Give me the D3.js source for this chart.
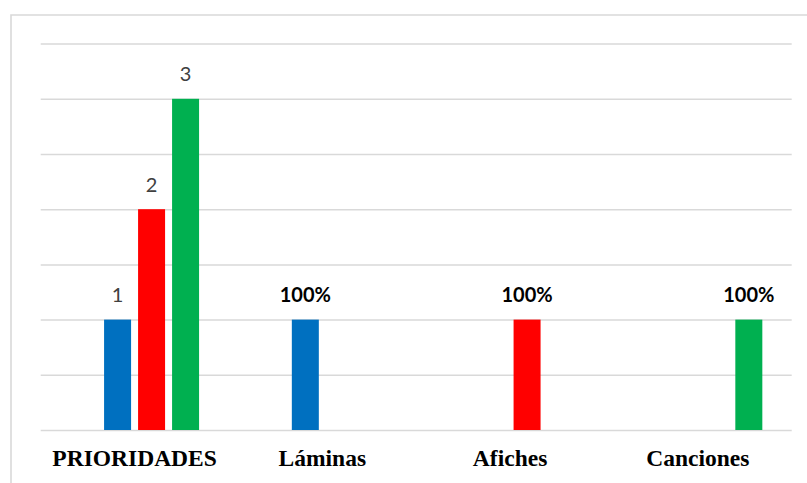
<!DOCTYPE html>
<html>
<head>
<meta charset="utf-8">
<script src="https://cdn.jsdelivr.net/npm/d3@7"></script>
<style>
  html, body { margin: 0; padding: 0; background: #fff; }
  svg { display: block; }
</style>
</head>
<body>
<svg id="chart" width="807" height="483"></svg>
<script>
// ---- data ----
const categories = ["PRIORIDADES", "Láminas", "Afiches", "Canciones"];
const seriesNames = ["vacía", "1", "2", "3"];
const seriesColors = ["#ffffff", "#0070c0", "#ff0000", "#00b050"];
// values per series, per category (null = no bar)
const serieVacia = [null, null, null, null];
const serie1 = [1, 1, null, null];
const serie2 = [2, null, 1, null];
const serie3 = [3, null, null, 1];
const labels1 = ["1", "100%", null, null];
const labels2 = ["2", null, "100%", null];
const labels3 = ["3", null, null, "100%"];
const yTicks = [0, 0.5, 1, 1.5, 2, 2.5, 3, 3.5];

const seriesValues = [serieVacia, serie1, serie2, serie3];
const seriesLabels = [[null, null, null, null], labels1, labels2, labels3];

// ---- layout ----
const svg = d3.select("#chart");
const W = 807, H = 483;
const plot = { left: 40.7, right: 791.7, top: 43.6, bottom: 430 };

// frame
svg.append("path")
  .attr("d", `M11,483 L11,15 L807,15`)
  .attr("fill", "none")
  .attr("stroke", "#d9d9d9")
  .attr("stroke-width", 1.6);

const x0 = d3.scaleBand()
  .domain(categories)
  .range([plot.left, plot.right])
  .paddingInner(0).paddingOuter(0);

const clusterW = 136;
const x1 = d3.scaleBand()
  .domain(seriesNames)
  .range([(x0.bandwidth() - clusterW) / 2, (x0.bandwidth() + clusterW) / 2])
  .paddingInner(7 / 34)
  .paddingOuter(3.5 / 34);

const y = d3.scaleLinear()
  .domain([0, 3.5])
  .range([plot.bottom, plot.top]);

// gridlines
const yAxis = d3.axisLeft(y)
  .tickValues(yTicks)
  .tickSize(-(plot.right - plot.left))
  .tickFormat("");
const gy = svg.append("g")
  .attr("transform", `translate(${plot.left},0)`)
  .call(yAxis);
gy.select(".domain").remove();
gy.selectAll(".tick line")
  .attr("stroke", "#d9d9d9")
  .attr("stroke-width", 1.5);

// bars
const barData = [];
seriesNames.forEach((s, si) => {
  categories.forEach((c, ci) => {
    const v = seriesValues[si][ci];
    if (v != null) barData.push({ s, si, c, v, label: seriesLabels[si][ci] });
  });
});

svg.append("g").selectAll("rect")
  .data(barData)
  .join("rect")
  .attr("x", d => x0(d.c) + x1(d.s))
  .attr("width", x1.bandwidth())
  .attr("y", d => y(d.v))
  .attr("height", d => y(0) - y(d.v))
  .attr("fill", d => seriesColors[d.si]);

// data labels
svg.append("g").selectAll("text")
  .data(barData.filter(d => d.label))
  .join("text")
  .attr("x", d => x0(d.c) + x1(d.s) + x1.bandwidth() / 2)
  .attr("y", d => y(d.v) - 17.5)
  .attr("text-anchor", "middle")
  .attr("font-family", "Lato, 'Open Sans', sans-serif")
  .attr("font-size", 20)
  .attr("font-weight", d => d.label.includes("%") ? "bold" : "normal")
  .attr("fill", d => d.label.includes("%") ? "#000000" : "#404040")
  .text(d => d.label);

// x axis labels
const xAxis = d3.axisBottom(x0).tickSize(0).tickPadding(0);
const gx = svg.append("g")
  .attr("transform", `translate(0,${plot.bottom})`)
  .call(xAxis);
gx.select(".domain").remove();
gx.selectAll(".tick text")
  .attr("y", 35.7)
  .attr("dy", 0)
  .attr("font-family", "'Liberation Serif', 'Times New Roman', serif")
  .attr("font-size", 23.5)
  .attr("font-weight", "bold")
  .attr("fill", "#000");
</script>
</body>
</html>
